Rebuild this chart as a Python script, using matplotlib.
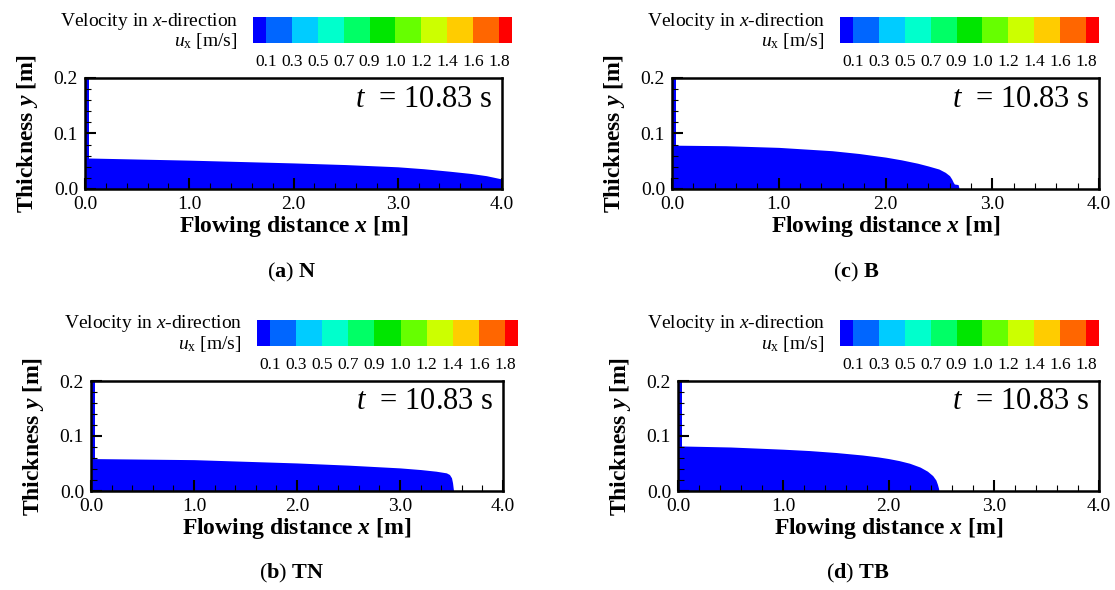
import numpy as np
import matplotlib
matplotlib.use('Agg')
import matplotlib.pyplot as plt
from matplotlib.ticker import MultipleLocator, FormatStrFormatter

plt.rcParams['font.family'] = 'Liberation Serif'
plt.rcParams['mathtext.fontset'] = 'custom'
plt.rcParams['mathtext.rm'] = 'Liberation Serif'
plt.rcParams['mathtext.it'] = 'Liberation Serif:italic'
plt.rcParams['mathtext.bf'] = 'Liberation Serif:bold'
plt.rcParams['mathtext.bfit'] = 'Liberation Serif:italic:bold'

# velocity legend
levels = ['0.1', '0.3', '0.5', '0.7', '0.9', '1.0', '1.2', '1.4', '1.6', '1.8']
level_colors = ['#0000ff', '#0066ff', '#00ccff', '#00ffcc', '#00ff66', '#00e600',
                '#66ff00', '#ccff00', '#ffcc00', '#ff6600', '#ff0000']

# free surface of the flow at t = 10.83 s (x [m], thickness y [m])
x_N = [0.0, 0.25, 0.5, 0.75, 1.0, 1.5, 2.0, 2.5, 3.0, 3.25, 3.5, 3.7, 3.85, 3.95, 4.0]
h_N = [0.056, 0.055, 0.054, 0.053, 0.052, 0.0495, 0.047, 0.044, 0.040, 0.0365, 0.032,
       0.028, 0.024, 0.020, 0.018]

x_TN = [0.0, 0.5, 1.0, 1.5, 2.0, 2.5, 3.0, 3.2, 3.35, 3.45, 3.48, 3.50, 3.51, 3.52]
h_TN = [0.059, 0.058, 0.057, 0.054, 0.051, 0.047, 0.042, 0.039, 0.036, 0.033, 0.030,
        0.024, 0.015, 0.0]

x_B = [0.0, 0.5, 1.0, 1.25, 1.5, 1.75, 2.0, 2.15, 2.3, 2.4, 2.5, 2.56, 2.6, 2.62, 2.635,
       2.645, 2.68, 2.69]
h_B = [0.079, 0.078, 0.075, 0.072, 0.069, 0.064, 0.0575, 0.0525, 0.0465, 0.0415, 0.036,
       0.030, 0.024, 0.018, 0.012, 0.009, 0.008, 0.0]

x_TB = [0.0, 0.5, 1.0, 1.25, 1.5, 1.75, 1.9, 2.0, 2.1, 2.2, 2.3, 2.37, 2.42, 2.45, 2.465,
        2.475, 2.48]
h_TB = [0.082, 0.080, 0.076, 0.0735, 0.070, 0.0655, 0.062, 0.059, 0.0553, 0.0505, 0.0435,
        0.036, 0.028, 0.020, 0.012, 0.005, 0.0]

wall_h = 0.2
wall_w = 0.035

captions = [r'($\mathbf{a}$) $\mathbf{N}$', r'($\mathbf{b}$) $\mathbf{TN}$',
            r'($\mathbf{c}$) $\mathbf{B}$', r'($\mathbf{d}$) $\mathbf{TB}$']
cases = [(x_N, h_N), (x_TN, h_TN), (x_B, h_B), (x_TB, h_TB)]

W, H = 1115, 590
fig = plt.figure(figsize=(W / 100, H / 100), dpi=100)


def rect(l, r, t, b):
    return [l / W, 1 - b / H, (r - l) / W, (b - t) / H]


# pixel boxes: axes, colorbar, caption
ax_boxes = [(85, 502, 78, 189), (91, 503, 381, 491), (672, 1099, 78, 189), (678, 1099, 381, 491)]
cb_boxes = [(253, 512, 17, 43), (257, 518, 320, 346), (840, 1099, 17, 43), (840, 1099, 320, 346)]
cap_pos = [(292, 272), (292, 573), (856, 272), (858, 573)]

edges = np.concatenate([[-0.5], np.arange(len(levels)), [len(levels) - 0.5]])

for k in range(4):
    ax = fig.add_axes(rect(*ax_boxes[k]))
    xs, hs = cases[k]
    ax.fill_between(xs, 0, hs, color='#0000ff', lw=0)
    ax.fill_betweenx([0, wall_h], 0, wall_w, color='#0000ff', lw=0)
    ax.set_xlim(0, 4)
    ax.set_ylim(0, 0.2)
    ax.set_xticks([0, 1, 2, 3, 4])
    ax.set_yticks([0, 0.1, 0.2])
    ax.xaxis.set_major_formatter(FormatStrFormatter('%.1f'))
    ax.yaxis.set_major_formatter(FormatStrFormatter('%.1f'))
    ax.xaxis.set_minor_locator(MultipleLocator(0.2))
    ax.yaxis.set_minor_locator(MultipleLocator(0.02))
    ax.tick_params(which='both', direction='in', top=False, right=False, labelsize=14)
    ax.tick_params(which='major', length=8, width=1.5, pad=5)
    ax.tick_params(which='minor', length=4, width=0.8)
    for s in ax.spines.values():
        s.set_linewidth(1.8)
    ax.set_xlabel(r'Flowing distance $\mathbfit{x}$ [m]', fontsize=17, fontweight='bold', labelpad=1)
    ax.set_ylabel(r'Thickness $\mathbfit{y}$ [m]', fontsize=17, fontweight='bold', labelpad=10)
    ax.text(0.978, 0.81, r'$t$  = 10.83 s', transform=ax.transAxes, ha='right', va='center', fontsize=22)

    # colour legend
    cax = fig.add_axes(rect(*cb_boxes[k]))
    for i, c in enumerate(level_colors):
        cax.axvspan(edges[i], edges[i + 1], color=c, lw=0)
    cax.set_xlim(edges[0], edges[-1])
    cax.set_ylim(0, 1)
    cax.set_xticks(np.arange(len(levels)))
    cax.set_xticklabels(levels)
    cax.set_yticks([])
    cax.tick_params(length=0, labelsize=12.5, pad=8)
    for s in cax.spines.values():
        s.set_visible(False)
    l, r, t, b = cb_boxes[k]
    fig.text((l - 15) / W, 1 - (t + 4) / H, r'Velocity in $x$-direction', ha='right', va='center', fontsize=14)
    fig.text((l - 15) / W, 1 - (t + 24) / H, r'$u_{\mathrm{x}}$ [m/s]', ha='right', va='center', fontsize=14)

    cx, cy = cap_pos[k]
    fig.text(cx / W, 1 - cy / H, captions[k], ha='center', va='center', fontsize=16)

fig.savefig('out.png', dpi=100)
